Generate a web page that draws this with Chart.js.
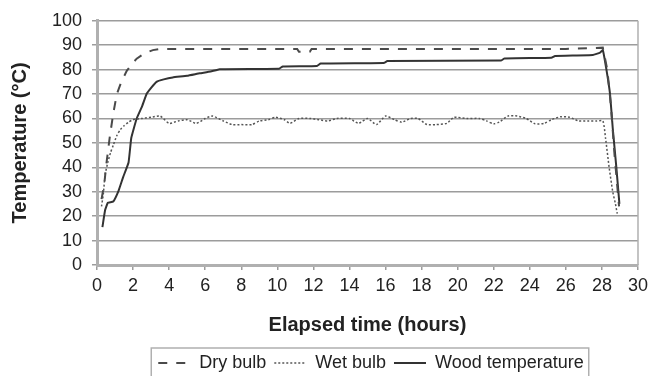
<!DOCTYPE html>
<html>
<head>
<meta charset="utf-8">
<script src="https://cdn.jsdelivr.net/npm/chart.js@4.4.1/dist/chart.umd.min.js"></script>
<style>
  html, body { margin: 0; padding: 0; background: #fff; }
  #wrap { width: 653px; height: 376px; }
</style>
</head>
<body>
<div id="wrap"><canvas id="chart" width="653" height="376"></canvas></div>
<script>
// ── Data ──
const dryHours = [0.25, 0.4, 0.53, 0.7, 0.9, 1.1, 1.35, 1.65, 1.9, 2.2, 2.5, 2.75, 3.1, 3.5, 4, 6, 8, 10, 11.1, 11.2, 11.8, 11.9, 14, 16, 18, 20, 22, 24, 26, 27.5, 28.05, 28.3, 28.5, 28.7, 28.95];
const dryTemps = [27, 33, 42, 52, 62, 70, 75, 79.5, 82, 84.5, 86, 87, 88, 88.5, 88.5, 88.5, 88.5, 88.5, 88.5, 87.3, 87.3, 88.5, 88.5, 88.5, 88.5, 88.5, 88.5, 88.5, 88.5, 88.8, 89, 80, 65, 45, 24];

const wetHours = [0.25, 0.35, 0.45, 0.6, 0.75, 0.9, 1.1, 1.3, 1.5, 1.75, 2, 2.5, 3, 3.5, 4, 4.5, 5, 5.5, 6, 6.4, 7, 7.5, 8, 8.6, 9, 9.5, 9.9, 10.4, 10.7, 11.2, 11.8, 12.3, 12.8, 13.3, 14, 14.5, 15, 15.5, 16, 16.5, 16.9, 17.4, 17.8, 18.3, 18.8, 19.4, 19.8, 20.5, 21.2, 21.6, 22, 22.3, 22.8, 23.3, 23.8, 24.3, 24.8, 25.2, 25.7, 26.2, 26.7, 27.2, 27.7, 28.05, 28.2, 28.4, 28.6, 28.75, 28.85];
const wetTemps = [24, 29, 37, 42, 46, 49, 53, 55.5, 57, 58.5, 59.5, 60, 60.5, 61, 58, 59, 59.5, 58, 60, 61, 59, 57.5, 57.5, 57.5, 59, 59.5, 60.5, 59.5, 58, 60, 60, 59.5, 59, 60, 60, 58, 60, 57.5, 61, 59.5, 58.5, 60, 60, 57.5, 57.5, 58, 60.5, 60, 60, 59, 57.8, 58.5, 61, 61, 60, 57.8, 58, 59.5, 60.7, 60.5, 59, 59, 59, 59, 52, 40, 30, 25, 21];

const woodHours = [0.3, 0.45, 0.6, 0.9, 1.2, 1.45, 1.75, 1.9, 2.2, 2.5, 2.75, 3.0, 3.3, 3.7, 4.2, 5, 5.7, 6.3, 6.8, 10.1, 10.3, 12.2, 12.4, 15.9, 16.1, 22.4, 22.6, 25.2, 25.4, 27.5, 27.9, 28.05, 28.25, 28.45, 28.6, 28.8, 28.97];
const woodTemps = [15.5, 22.5, 25.5, 26, 30.5, 36, 42, 52, 60, 65, 70, 72.5, 75, 76, 76.8, 77.5, 78.5, 79.2, 80.2, 80.4, 81.3, 81.5, 82.5, 82.7, 83.5, 83.7, 84.6, 84.9, 85.6, 86, 87, 88, 80, 70, 56, 40, 25];

const toPoints = (xs, ys) => xs.map((x, i) => ({ x: x, y: ys[i] }));

const FONT = "'Liberation Sans', Arial, sans-serif";
const GRID = '#9c9c9c';
const AXIS = '#b0b0b0';

// ── Plot frame + boxed legend ──
const framePlugin = {
  id: 'frame',
  afterLayout(chart) {
    const lg = chart.legend;
    const dx = 371 - (lg.left + lg.right) / 2;
    lg.left += dx; lg.right += dx;
    lg.top += 6; lg.bottom += 6;
  },
  afterDraw(chart) {
    const { ctx, chartArea: a, legend: lg } = chart;
    ctx.save();
    ctx.strokeStyle = AXIS;
    ctx.lineWidth = 1.5;
    ctx.beginPath();
    ctx.moveTo(a.right, a.top);
    ctx.lineTo(a.right, a.bottom);
    ctx.stroke();

    const boxes = lg.legendHitBoxes;
    if (boxes && boxes.length) {
      const first = boxes[0], last = boxes[boxes.length - 1];
      ctx.strokeStyle = '#b0b0b0';
      ctx.lineWidth = 1.5;
      ctx.strokeRect(first.left - 7, first.top + 9 - 15,
        last.left + last.width - first.left + 12, 40);
    }
    ctx.restore();
  }
};

function legendLabels(chart) {
  return Chart.defaults.plugins.legend.labels.generateLabels(chart).map(item => {
    const ds = chart.data.datasets[item.datasetIndex];
    item.lineDash = ds.borderDash || [];
    item.lineWidth = ds.borderWidth;
    item.strokeStyle = ds.borderColor;
    return item;
  });
}

new Chart(document.getElementById('chart'), {
  type: 'line',
  data: {
    datasets: [
      {
        label: 'Dry bulb',
        data: toPoints(dryHours, dryTemps),
        borderColor: '#4a4a4a',
        borderWidth: 2,
        borderDash: [9, 9],
        pointRadius: 0,
        tension: 0
      },
      {
        label: 'Wet bulb',
        data: toPoints(wetHours, wetTemps),
        borderColor: '#555',
        borderWidth: 1.5,
        borderDash: [2, 2],
        pointRadius: 0,
        tension: 0.2
      },
      {
        label: 'Wood temperature',
        data: toPoints(woodHours, woodTemps),
        borderColor: '#333',
        borderWidth: 2,
        pointRadius: 0,
        tension: 0.1
      }
    ]
  },
  options: {
    responsive: false,
    animation: false,
    layout: { padding: { top: 9, right: 3, left: 0, bottom: 0 } },
    plugins: {
      legend: {
        position: 'bottom',
        labels: {
          usePointStyle: true,
          pointStyle: 'line',
          pointStyleWidth: 32,
          padding: 8,
          color: '#222',
          font: { family: FONT, size: 18 },
          generateLabels: legendLabels
        }
      },
      tooltip: { enabled: false }
    },
    scales: {
      x: {
        type: 'linear',
        min: 0,
        max: 30,
        ticks: { stepSize: 2, autoSkip: false, color: '#222', padding: 5, font: { family: FONT, size: 18 } },
        grid: { drawOnChartArea: false, drawTicks: true, tickLength: 5, color: GRID, lineWidth: 1.5 },
        border: { color: AXIS, width: 3 },
        title: {
          display: true,
          text: 'Elapsed time (hours)',
          color: '#222',
          font: { family: FONT, size: 20, weight: 'bold' },
          padding: { top: 0, bottom: 3 }
        },
        afterFit: s => { s.height = s.chart.height - s.chart.legend.height - 265; }
      },
      y: {
        min: 0,
        max: 100,
        ticks: { stepSize: 10, autoSkip: false, color: '#222', padding: 10, font: { family: FONT, size: 18 } },
        grid: { color: GRID, lineWidth: 1.5, tickLength: 5 },
        border: { color: AXIS, width: 3 },
        title: {
          display: true,
          text: 'Temperature (°C)',
          color: '#222',
          font: { family: FONT, size: 20, weight: 'bold' },
          padding: { top: 8, bottom: 0 }
        },
        afterFit: s => { s.width = 97; }
      }
    }
  },
  plugins: [framePlugin]
});
</script>
</body>
</html>
